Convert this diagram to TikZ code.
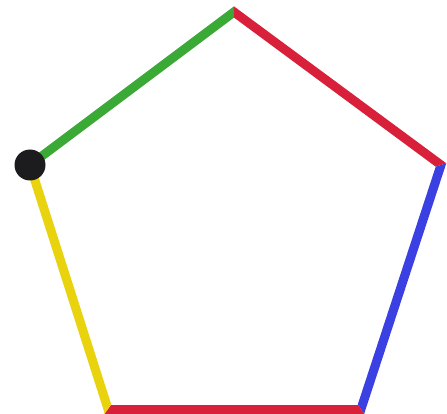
\documentclass[tikz,border=0pt]{standalone}
\usetikzlibrary{calc}
\definecolor{cgreen}{HTML}{3BA935}
\definecolor{cred}{HTML}{D8203A}
\definecolor{cblue}{HTML}{3A40E2}
\definecolor{cyellow}{HTML}{E9D30F}
\definecolor{cdot}{HTML}{1C1C1E}
\tikzset{
  edge/.style={draw=#1, line width=9pt, line cap=rect},
  corner/.style={circle, fill=cdot, inner sep=0pt, minimum size=31pt},
}

\begin{document}
\begin{tikzpicture}[x=1pt, y=-1pt]
  \useasboundingbox (0,0) rectangle (447,414);
  \coordinate (m) at (235.5,231.5);
  \coordinate (v1) at (30,165);
  \coordinate (v2) at (234,12);
  \coordinate (v3) at (441,165);
  \coordinate (v4) at (361,409);
  \coordinate (v5) at (108,409);
  % each side cut at the bisectors, so the corners meet sharp
  \foreach \a/\b/\c in {v1/v2/cgreen, v2/v3/cred, v3/v4/cblue, v4/v5/cred, v5/v1/cyellow} {
    \begin{scope}
      \clip (m) -- ($(m)!3!(\a)$) -- ($(m)!3!(\b)$) -- cycle;
      \draw[edge=\c] (\a) -- (\b);
    \end{scope}
  }
  \node[corner] (start) at (v1) {};
\end{tikzpicture}
\end{document}
